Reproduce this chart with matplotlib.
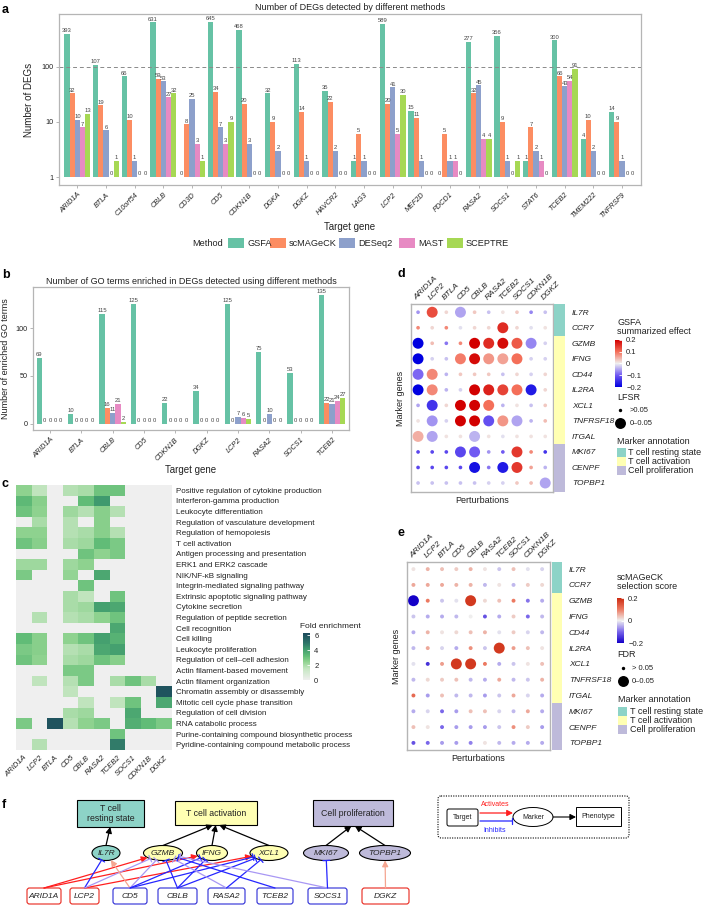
import numpy as np
import matplotlib
matplotlib.use('Agg')
import matplotlib.pyplot as plt
from matplotlib.colors import LinearSegmentedColormap, Normalize
from matplotlib.patches import Rectangle, Ellipse, FancyBboxPatch
from matplotlib.cm import ScalarMappable
from matplotlib.ticker import NullLocator

plt.rcParams['font.family'] = ['Liberation Sans', 'DejaVu Sans']

# ---------------- data ----------------
methods = ['GSFA', 'scMAGeCK', 'DESeq2', 'MAST', 'SCEPTRE']
method_colors = ['#66c2a5', '#fc8d62', '#8da0cb', '#e78ac3', '#a6d854']

genes_a = ['ARID1A', 'BTLA', 'C10orf54', 'CBLB', 'CD3D', 'CD5', 'CDKN1B', 'DGKA', 'DGKZ', 'HAVCR2',
           'LAG3', 'LCP2', 'MEF2D', 'PDCD1', 'RASA2', 'SOCS1', 'STAT6', 'TCEB2', 'TMEM222', 'TNFRSF9']
gsfa_a     = [393, 107, 66, 631, 0, 645, 468, 32, 113, 35, 1, 589, 15, 0, 277, 356, 1, 300, 4, 14]
scmageck_a = [32, 19, 10, 59, 8, 34, 20, 9, 14, 22, 5, 20, 11, 5, 32, 9, 7, 66, 10, 9]
deseq2_a   = [10, 6, 1, 53, 25, 7, 3, 2, 1, 2, 1, 41, 1, 1, 45, 1, 2, 43, 2, 1]
mast_a     = [7, 0, 0, 27, 3, 3, 0, 0, 0, 0, 0, 5, 0, 1, 4, 0, 1, 54, 0, 0]
sceptre_a  = [13, 1, 0, 32, 1, 9, 0, 0, 0, 0, 0, 30, 0, 0, 4, 1, 0, 91, 0, 0]

genes_b = ['ARID1A', 'BTLA', 'CBLB', 'CD5', 'CDKN1B', 'DGKZ', 'LCP2', 'RASA2', 'SOCS1', 'TCEB2']
gsfa_b     = [69, 10, 115, 125, 22, 34, 125, 75, 53, 135]
scmageck_b = [0, 0, 16, 0, 0, 0, 0, 0, 0, 22]
deseq2_b   = [0, 0, 11, 0, 0, 0, 7, 10, 0, 21]
mast_b     = [0, 0, 21, 0, 0, 0, 6, 0, 0, 24]
sceptre_b  = [0, 0, 2, 0, 0, 0, 5, 0, 0, 27]

perturbations = ['ARID1A', 'LCP2', 'BTLA', 'CD5', 'CBLB', 'RASA2', 'TCEB2', 'SOCS1', 'CDKN1B', 'DGKZ']
go_terms = ['Positive regulation of cytokine production', 'Interferon-gamma production',
            'Leukocyte differentiation', 'Regulation of vasculature development',
            'Regulation of hemopoiesis', 'T cell activation', 'Antigen processing and presentation',
            'ERK1 and ERK2 cascade', 'NIK/NF-\u03baB signaling', 'Integrin-mediated signaling pathway',
            'Extrinsic apoptotic signaling pathway', 'Cytokine secretion',
            'Regulation of peptide secretion', 'Cell recognition', 'Cell killing',
            'Leukocyte proliferation', 'Regulation of cell\u2013cell adhesion',
            'Actin filament-based movement', 'Actin filament organization',
            'Chromatin assembly or disassembly', 'Mitotic cell cycle phase transition',
            'Regulation of cell division', 'RNA catabolic process',
            'Purine-containing compound biosynthetic process',
            'Pyridine-containing compound metabolic process']
go_fold = [
    [2.5, 1.6, 0, 1.8, 2.0, 3.0, 3.0, 0, 0, 0],
    [3.3, 2.6, 0, 0, 3.2, 4.2, 0, 0, 0, 0],
    [3.0, 2.5, 0, 2.2, 1.8, 2.6, 1.8, 0, 0, 0],
    [0, 2.0, 0, 1.8, 0, 2.6, 0, 0, 0, 0],
    [2.5, 2.5, 0, 1.8, 2.0, 2.6, 1.8, 0, 0, 0],
    [3.0, 2.6, 0, 2.0, 2.2, 3.2, 2.8, 0, 0, 0],
    [0, 0, 0, 0, 3.0, 2.5, 2.8, 0, 0, 0],
    [2.2, 2.2, 0, 2.2, 2.5, 0, 0, 0, 0, 0],
    [2.8, 0, 0, 2.4, 0, 3.8, 0, 0, 0, 0],
    [0, 0, 0, 0, 3.0, 0, 0, 0, 0, 0],
    [0, 0, 0, 2.0, 1.6, 0, 3.0, 0, 0, 0],
    [0, 0, 0, 2.0, 2.2, 4.0, 3.8, 0, 0, 0],
    [0, 1.8, 0, 1.8, 2.0, 2.5, 3.0, 0, 0, 0],
    [0, 0, 0, 0, 0, 0, 3.8, 0, 0, 0],
    [3.2, 2.6, 0, 2.5, 3.0, 4.0, 3.5, 0, 0, 0],
    [2.8, 2.6, 0, 1.8, 2.0, 3.8, 4.0, 0, 0, 0],
    [3.0, 2.5, 0, 2.0, 2.2, 3.0, 2.6, 0, 0, 0],
    [0, 0, 0, 2.8, 2.8, 0, 0, 0, 0, 0],
    [0, 1.6, 0, 1.8, 2.8, 0, 2.0, 3.0, 2.0, 0],
    [0, 0, 0, 1.6, 0, 0, 0, 0, 0, 6.0],
    [0, 0, 0, 0, 1.6, 0, 1.6, 3.0, 0, 3.8],
    [0, 0, 0, 2.0, 2.2, 0, 0, 3.8, 0, 0],
    [2.8, 0, 6.0, 1.8, 2.5, 2.8, 0, 3.6, 3.2, 2.8],
    [0, 0, 0, 0, 0, 0, 3.0, 0, 0, 0],
    [0, 1.8, 0, 0, 0, 0, 4.8, 0, 0, 0],
]

marker_genes = ['IL7R', 'CCR7', 'GZMB', 'IFNG', 'CD44', 'IL2RA', 'XCL1', 'TNFRSF18', 'ITGAL',
                'MKI67', 'CENPF', 'TOPBP1']
marker_annotation = ['T cell resting state'] * 2 + ['T cell activation'] * 7 + ['Cell proliferation'] * 3
annotation_names = ['T cell resting state', 'T cell activation', 'Cell proliferation']
annotation_colors = ['#8dd3c7', '#ffffb3', '#bebada']

gsfa_effect = [
    [-0.06, 0.13, 0.02, -0.05, 0.03, -0.03, 0.01, 0.03, -0.07, -0.03],
    [0.08, 0.02, 0.08, -0.01, 0.02, 0.02, 0.16, 0.02, -0.01, 0.01],
    [-0.22, 0.04, -0.08, 0.08, 0.20, 0.16, 0.19, 0.12, -0.07, -0.02],
    [-0.22, -0.02, -0.03, 0.09, 0.19, 0.07, 0.06, 0.10, -0.02, -0.02],
    [-0.09, 0.08, -0.04, 0.03, 0.03, 0.03, -0.03, 0.02, -0.02, 0.02],
    [-0.22, 0.08, -0.04, -0.02, 0.20, 0.17, 0.14, 0.10, -0.17, 0.02],
    [-0.05, -0.14, 0.02, 0.20, 0.20, 0.10, -0.04, 0.01, -0.03, 0.03],
    [0.01, -0.06, -0.02, 0.20, 0.20, -0.11, 0.07, -0.05, -0.04, 0.04],
    [0.05, -0.05, 0.01, 0.01, -0.04, 0.01, -0.01, 0.01, 0.01, 0.01],
    [-0.12, -0.12, -0.12, -0.12, -0.10, -0.06, -0.10, 0.15, 0.08, -0.14],
    [-0.12, -0.12, -0.12, -0.12, -0.18, -0.08, -0.17, 0.15, 0.06, -0.04],
    [-0.03, -0.03, -0.03, -0.03, -0.03, -0.02, -0.02, 0.03, 0.04, -0.05],
]
gsfa_lfsr_sig = [
    [0, 1, 0, 1, 0, 0, 0, 0, 0, 0],
    [0, 0, 0, 0, 0, 0, 1, 0, 0, 0],
    [1, 0, 0, 0, 1, 1, 1, 1, 1, 0],
    [1, 0, 0, 1, 1, 1, 1, 1, 0, 0],
    [1, 1, 0, 0, 0, 0, 0, 0, 0, 0],
    [1, 1, 0, 0, 1, 1, 1, 1, 1, 0],
    [0, 1, 0, 1, 1, 1, 0, 0, 0, 0],
    [0, 1, 0, 1, 1, 1, 1, 1, 0, 0],
    [1, 1, 0, 0, 1, 0, 0, 0, 0, 0],
    [0, 0, 0, 1, 1, 0, 0, 1, 0, 0],
    [0, 0, 0, 0, 1, 0, 1, 1, 0, 0],
    [0, 0, 0, 0, 0, 0, 0, 0, 0, 1],
]

scmageck_score = [
    [0.01, 0.05, 0.04, 0.03, 0.05, 0.01, -0.03, 0.04, -0.01, -0.02],
    [0.06, 0.06, 0.06, 0.05, 0.05, -0.04, 0.01, -0.04, 0.03, 0.02],
    [-0.20, 0.10, -0.03, -0.01, 0.18, 0.02, 0.04, 0.10, -0.09, -0.05],
    [-0.03, -0.05, -0.05, -0.04, 0.00, -0.12, -0.05, 0.03, -0.10, -0.04],
    [-0.05, 0.05, 0.01, 0.02, 0.04, 0.05, -0.01, 0.03, -0.02, -0.04],
    [-0.04, 0.06, -0.02, -0.05, 0.08, -0.03, 0.18, 0.07, 0.04, 0.01],
    [-0.01, -0.15, 0.07, 0.18, 0.18, 0.10, -0.05, -0.03, 0.01, 0.04],
    [-0.04, 0.02, 0.03, 0.04, -0.04, -0.05, 0.06, -0.04, -0.03, 0.05],
    [0.12, -0.06, 0.04, -0.04, -0.04, -0.06, -0.03, 0.06, -0.02, -0.05],
    [-0.05, -0.02, -0.10, -0.06, 0.04, 0.04, -0.02, -0.04, 0.06, -0.05],
    [0.04, 0.01, -0.10, -0.06, -0.06, -0.06, -0.03, 0.08, 0.03, -0.06],
    [-0.12, -0.10, -0.06, -0.06, -0.08, 0.01, -0.04, -0.05, -0.05, -0.05],
]
scmageck_fdr_sig = [
    [0] * 10, [0] * 10,
    [1, 0, 0, 0, 1, 0, 0, 0, 0, 0],
    [0] * 10, [0] * 10,
    [0, 0, 0, 0, 0, 0, 1, 0, 0, 0],
    [0, 0, 0, 1, 1, 0, 0, 0, 0, 0],
    [0] * 10, [0] * 10, [0] * 10, [0] * 10, [0] * 10,
]

# network (panel f)
targets_f = ['ARID1A', 'LCP2', 'CD5', 'CBLB', 'RASA2', 'TCEB2', 'SOCS1', 'DGKZ']
target_role_f = ['act', 'act', 'inh', 'inh', 'inh', 'inh', 'inh', 'act']
markers_f = ['IL7R', 'GZMB', 'IFNG', 'XCL1', 'MKI67', 'TOPBP1']
marker_group_f = [0, 1, 1, 1, 2, 2]
phenotypes_f = ['T cell\nresting state', 'T cell activation', 'Cell proliferation']
edges_f = [  # (target, marker, type, strong?)
    ('ARID1A', 'GZMB', 'act', 1), ('ARID1A', 'IFNG', 'act', 1),
    ('LCP2', 'IL7R', 'inh', 1), ('LCP2', 'XCL1', 'act', 1), ('LCP2', 'GZMB', 'inh', 0),
    ('CD5', 'IL7R', 'act', 0), ('CD5', 'GZMB', 'inh', 0), ('CD5', 'IFNG', 'inh', 1), ('CD5', 'XCL1', 'inh', 1),
    ('CBLB', 'GZMB', 'inh', 1), ('CBLB', 'IFNG', 'inh', 1), ('CBLB', 'XCL1', 'inh', 1),
    ('RASA2', 'GZMB', 'inh', 0), ('RASA2', 'XCL1', 'inh', 1),
    ('TCEB2', 'GZMB', 'inh', 1),
    ('SOCS1', 'GZMB', 'inh', 0), ('SOCS1', 'MKI67', 'inh', 1),
    ('DGKZ', 'TOPBP1', 'act', 0),
]

# ---------------- figure ----------------
W, H = 708, 905
fig = plt.figure(figsize=(W / 100, H / 100), dpi=100)


def ax_px(x0, y0, x1, y1, **kw):
    return fig.add_axes([x0 / W, 1 - y1 / H, (x1 - x0) / W, (y1 - y0) / H], **kw)


def ftext(x, y, s, **kw):
    return fig.text(x / W, 1 - y / H, s, **kw)


FRAME = '#b5b5b5'
TXT = '#222222'


def frame(ax, lw=0.9):
    for s in ax.spines.values():
        s.set_color(FRAME)
        s.set_linewidth(lw)
    ax.tick_params(color=FRAME, labelcolor=TXT, length=2.5, width=0.7, labelsize=5.2)
    ax.tick_params(axis='y', pad=1.5)
    ax.tick_params(axis='x', pad=2)


# ---- panel a ----
axa = ax_px(59, 14, 641, 185)
xa = np.arange(len(genes_a))
bw = 0.18
for j, (vals, c) in enumerate(zip([gsfa_a, scmageck_a, deseq2_a, mast_a, sceptre_a], method_colors)):
    v = np.array(vals)
    x = xa + (j - 2) * bw
    axa.bar(x, v, bottom=1, width=bw, color=c, linewidth=0)
    for xi, vi in zip(x, v):
        axa.text(xi, (vi + 1) * 1.03, str(vi), ha='center', va='bottom', fontsize=4.2, color='#444444')
axa.set_yscale('log')
axa.set_ylim(0.72, 900)
axa.set_xlim(-0.64, len(genes_a) - 1 + 0.66)
axa.set_yticks([1, 10, 100])
axa.set_yticklabels(['1', '10', '100'])
axa.yaxis.set_minor_locator(NullLocator())
axa.axhline(100, color='#8a8a8a', ls=(0, (4, 3)), lw=0.7)
axa.set_xticks(xa)
axa.set_xticklabels(genes_a, rotation=45, ha='right', rotation_mode='anchor', fontstyle='italic')
frame(axa)
axa.set_ylabel('Number of DEGs', fontsize=7, labelpad=5, color=TXT)
axa.set_xlabel('Target gene', fontsize=7, labelpad=2, color=TXT)
axa.set_title('Number of DEGs detected by different methods', fontsize=6.5, pad=3, color=TXT)

# ---- panel b ----
axb = ax_px(33, 287, 349, 430)
xb = np.arange(len(genes_b))
bwb = 0.17
for j, (vals, c) in enumerate(zip([gsfa_b, scmageck_b, deseq2_b, mast_b, sceptre_b], method_colors)):
    v = np.array(vals)
    x = xb + (j - 2) * bwb
    axb.bar(x, v, width=bwb, color=c, linewidth=0)
    for xi, vi in zip(x, v):
        axb.text(xi, vi + 1.2, str(vi), ha='center', va='bottom', fontsize=4.2, color='#444444')
axb.set_ylim(-6.5, 143)
axb.set_xlim(-0.54, len(genes_b) - 1 + 0.54)
axb.set_yticks([0, 50, 100])
axb.set_xticks(xb)
axb.set_xticklabels(genes_b, rotation=45, ha='right', rotation_mode='anchor', fontstyle='italic')
frame(axb)
axb.set_ylabel('Number of enriched GO terms', fontsize=6.5, labelpad=4, color=TXT)
axb.set_xlabel('Target gene', fontsize=7, labelpad=2, color=TXT)
axb.set_title('Number of GO terms enriched in DEGs detected using different methods', fontsize=6.5,
              pad=2, color=TXT)

# ---- panel c ----
cmap_c = LinearSegmentedColormap.from_list(
    'fold', [(0, '#efefef'), (1.5 / 6.3, '#c6e7c3'), (2.5 / 6.3, '#8ed28f'), (3.2 / 6.3, '#62bd78'),
             (4.2 / 6.3, '#3f9a6e'), (5.0 / 6.3, '#2d7368'), (1, '#1c4a5c')])
axc = ax_px(16, 485, 172, 750)
imc = axc.imshow(np.array(go_fold), cmap=cmap_c, vmin=0, vmax=6.3, aspect='auto', interpolation='nearest')
axc.set_yticks(range(len(go_terms)))
axc.set_yticklabels(go_terms, fontsize=5.8, color=TXT)
axc.yaxis.tick_right()
axc.set_xticks(range(len(perturbations)))
axc.set_xticklabels(perturbations, rotation=45, ha='right', rotation_mode='anchor', fontstyle='italic',
                    fontsize=5.5, color=TXT)
axc.tick_params(length=0, pad=3)
for s in axc.spines.values():
    s.set_visible(False)
caxc = ax_px(303, 633, 310, 682)
cbc = fig.colorbar(imc, cax=caxc, ticks=[0, 2, 4, 6])
cbc.outline.set_visible(False)
caxc.tick_params(labelsize=5.5, length=2, width=0.6, color='white', direction='in', pad=3, labelcolor=TXT)
caxc.set_ylim(-0.25, 6.3)
ftext(300, 626, 'Fold enrichment', fontsize=6, va='center', color=TXT)

# ---- panels d and e ----
cmap_d = LinearSegmentedColormap.from_list(
    'gsfa', [(0, '#0000e0'), (0.25, '#7058f2'), (0.5, '#efefef'), (0.75, '#f4705a'), (1, '#d20000')])
cmap_e = LinearSegmentedColormap.from_list(
    'scm', [(0, '#1400c8'), (0.25, '#7a66ea'), (0.5, '#efefef'), (0.75, '#ec7a62'), (1, '#cc2a10')])
norm_de = Normalize(-0.2, 0.2)


def dotpanel(box, ann_box, vals, sig, cmap, big, small, label_x, ylim, xlim):
    x0, y0, x1, y1 = box
    ax = ax_px(x0, y0, x1, y1)
    v = np.clip(np.array(vals), -0.2, 0.2)
    s = np.array(sig)
    nr, nc = v.shape
    cols, rows = np.meshgrid(np.arange(nc), np.arange(nr))
    sizes = np.where(s == 1, big, small)
    ax.scatter(cols.ravel(), rows.ravel(), c=v.ravel(), s=sizes.ravel(), cmap=cmap, norm=norm_de,
               linewidths=0)
    ax.set_xlim(*xlim)
    ax.set_ylim(*ylim)
    ax.xaxis.tick_top()
    ax.set_xticks(range(nc))
    ax.set_xticklabels(perturbations, rotation=45, ha='left', rotation_mode='anchor', fontstyle='italic')
    ax.set_yticks([])
    for sp in ax.spines.values():
        sp.set_color(FRAME)
        sp.set_linewidth(1.0)
    ax.tick_params(axis='x', length=0, pad=2, labelsize=6, labelcolor=TXT)
    ax.set_ylabel('Marker genes', fontsize=6.5, labelpad=4, color=TXT)
    ax.set_xlabel('Perturbations', fontsize=6.5, labelpad=3, color=TXT)
    # annotation bar
    a0, a1 = ann_box
    axn = ax_px(a0, y0, a1, y1)
    axn.set_xlim(0, 1)
    axn.set_ylim(*ylim)
    bounds = [ylim[1], 1.5, 8.5, ylim[0]]
    for k in range(3):
        axn.add_patch(Rectangle((0, bounds[k]), 1, bounds[k + 1] - bounds[k], color=annotation_colors[k],
                                linewidth=0))
    axn.set_xticks([])
    axn.yaxis.tick_right()
    axn.set_yticks(range(nr))
    axn.set_yticklabels(marker_genes, fontstyle='italic', fontsize=6, color=TXT)
    axn.tick_params(axis='y', length=0, pad=label_x)
    for sp in axn.spines.values():
        sp.set_visible(False)
    return ax


axd = dotpanel((411, 304, 553, 492), (554, 565), gsfa_effect, gsfa_lfsr_sig, cmap_d, 62, 7, 5,
               (11.58, -0.53), (-0.5, 9.55))
axe = dotpanel((407, 562, 550, 750), (552, 562), scmageck_score, scmageck_fdr_sig, cmap_e, 62, 8, 5,
               (11.45, -0.45), (-0.45, 9.55))

# colorbars for d and e
caxd = ax_px(615, 340, 622, 387)
cbd = fig.colorbar(ScalarMappable(norm_de, cmap_d), cax=caxd, ticks=[0.2, 0.1, 0, -0.1, -0.2])
cbd.ax.set_yticklabels(['0.2', '0.1', '0', '\u22120.1', '\u22120.2'])
cbd.outline.set_visible(False)
caxd.tick_params(labelsize=5.5, length=2, width=0.6, color='white', direction='in', pad=3, labelcolor=TXT)

caxe = ax_px(617, 598, 624, 643)
cbe = fig.colorbar(ScalarMappable(norm_de, cmap_e), cax=caxe, ticks=[0.2, 0, -0.2])
cbe.ax.set_yticklabels(['0.2', '0', '\u22120.2'])
cbe.outline.set_visible(False)
caxe.tick_params(labelsize=5.5, length=2, width=0.6, color='white', direction='in', pad=3, labelcolor=TXT)

# ---- overlay (legends, labels, network) ----
ov = fig.add_axes([0, 0, 1, 1])
ov.set_xlim(0, W)
ov.set_ylim(H, 0)
ov.axis('off')

# legend of a
ov.text(192, 243, 'Method', fontsize=6.6, va='center', ha='left', color=TXT)
leg_x = [228, 270, 339, 399, 447]
for lx, m, c in zip(leg_x, methods, method_colors):
    ov.add_patch(Rectangle((lx, 238), 16, 10, color=c, linewidth=0))
    ov.text(lx + 19, 243, m, fontsize=6.6, va='center', ha='left', color=TXT)

# legend of d
ov.text(617, 327, 'GSFA\nsummarized effect', fontsize=6.5, va='center', ha='left', color=TXT,
        linespacing=1.0)
ov.text(617, 397, 'LFSR', fontsize=6.5, va='center', color=TXT)
ov.scatter([620], [410], s=6, c='black', linewidths=0)
ov.text(630, 410, '>0.05', fontsize=5.5, va='center', color=TXT)
ov.scatter([620], [423], s=62, c='black', linewidths=0)
ov.text(630, 423, '0\u20130.05', fontsize=5.5, va='center', color=TXT)
ov.text(617, 441, 'Marker annotation', fontsize=6.5, va='center', color=TXT)
for k in range(3):
    ov.add_patch(Rectangle((617, 448 + 9 * k), 9, 9, color=annotation_colors[k], linewidth=0))
    ov.text(628, 452.5 + 9 * k, annotation_names[k], fontsize=6.5, va='center', color=TXT)

# legend of e
ov.text(617, 582, 'scMAGeCK\nselection score', fontsize=6.5, va='center', ha='left', color=TXT,
        linespacing=1.0)
ov.text(617, 654, 'FDR', fontsize=6.5, va='center', color=TXT)
ov.scatter([623], [668], s=6, c='black', linewidths=0)
ov.text(632, 668, '> 0.05', fontsize=5.5, va='center', color=TXT)
ov.scatter([623], [681], s=62, c='black', linewidths=0)
ov.text(632, 681, '0\u20130.05', fontsize=5.5, va='center', color=TXT)
ov.text(618, 699, 'Marker annotation', fontsize=6.5, va='center', color=TXT)
for k in range(3):
    ov.add_patch(Rectangle((618, 707 + 9 * k), 9, 9, color=annotation_colors[k], linewidth=0))
    ov.text(630, 711.5 + 9 * k, annotation_names[k], fontsize=6.5, va='center', color=TXT)

# panel letters
for (lx, ly, lt) in [(2, 10, 'a'), (2, 275, 'b'), (2, 484, 'c'), (397, 274, 'd'), (397, 533, 'e'),
                     (2, 805, 'f')]:
    ov.text(lx, ly, lt, fontsize=9, fontweight='bold', va='center', ha='left', color='black')

# ---- panel f network ----
RED, LRED = '#ff1f1f', '#f5a590'
BLUE, LBLUE = '#2626ff', '#a897f4'
target_box = {'ARID1A': (27, 61), 'LCP2': (70, 99), 'CD5': (113, 147), 'CBLB': (158, 197),
              'RASA2': (208, 245), 'TCEB2': (257, 293), 'SOCS1': (308, 347), 'DGKZ': (362, 409)}
ty0, ty1 = 888, 904
marker_pos = {'IL7R': (106, 28), 'GZMB': (163, 39), 'IFNG': (212, 31), 'XCL1': (269, 38),
              'MKI67': (326, 45), 'TOPBP1': (385, 51)}
my, mh = 853, 15
pheno_box = [(77, 800, 144, 827), (175, 801, 257, 825), (313, 800, 393, 826)]


def ellipse_point(cx, cy, a, b, px, py):
    dx, dy = px - cx, py - cy
    t = 1.0 / np.sqrt((dx / a) ** 2 + (dy / b) ** 2)
    return cx + t * dx, cy + t * dy


# edges target -> marker
for (t, m, kind, strong) in edges_f:
    tx0, tx1 = target_box[t]
    sx, sy = (tx0 + tx1) / 2, ty0
    cx, w = marker_pos[m]
    ex, ey = ellipse_point(cx, my, w / 2, mh / 2, sx, sy)
    if kind == 'act':
        col = RED if strong else LRED
        style = '-|>,head_length=0.35,head_width=0.18'
    else:
        col = BLUE if strong else LBLUE
        style = '-[,widthB=0.25,lengthB=0'
    ov.annotate('', xy=(ex, ey), xytext=(sx, sy),
                arrowprops=dict(arrowstyle=style, color=col, lw=0.9, shrinkA=0, shrinkB=0))

# marker -> phenotype arrows
for m, g in zip(markers_f, marker_group_f):
    cx, w = marker_pos[m]
    bx0, by0, bx1, by1 = pheno_box[g]
    bxc = (bx0 + bx1) / 2
    ov.annotate('', xy=(bxc + (cx - bxc) * 0.06, by1), xytext=(cx, my - mh / 2),
                arrowprops=dict(arrowstyle='-|>,head_length=0.35,head_width=0.18', color='black', lw=0.9,
                                shrinkA=0, shrinkB=0))

# phenotype boxes
for (bx0, by0, bx1, by1), name, c in zip(pheno_box, phenotypes_f, annotation_colors):
    ov.add_patch(Rectangle((bx0, by0), bx1 - bx0, by1 - by0, facecolor=c, edgecolor='black', lw=0.8))
    ov.text((bx0 + bx1) / 2, (by0 + by1) / 2, name, ha='center', va='center', fontsize=6.3,
            color=TXT, linespacing=1.05)

# marker ellipses
for m, g in zip(markers_f, marker_group_f):
    cx, w = marker_pos[m]
    ov.add_patch(Ellipse((cx, my), w, mh, facecolor=annotation_colors[g], edgecolor='black', lw=0.8))
    ov.text(cx, my, m, ha='center', va='center', fontsize=6, fontstyle='italic', color=TXT)

# target boxes
for t, role in zip(targets_f, target_role_f):
    tx0, tx1 = target_box[t]
    ec = '#e8261c' if role == 'act' else '#2b2bd6'
    ov.add_patch(FancyBboxPatch((tx0, ty0), tx1 - tx0, ty1 - ty0, boxstyle='round,pad=0,rounding_size=2.5',
                                facecolor='white', edgecolor=ec, lw=0.8))
    ov.text((tx0 + tx1) / 2, (ty0 + ty1) / 2, t, ha='center', va='center', fontsize=6, fontstyle='italic',
            color=TXT)

# network legend
ov.add_patch(FancyBboxPatch((438, 796), 191, 42, boxstyle='round,pad=0,rounding_size=3', facecolor='none',
                            edgecolor='black', lw=0.8, linestyle=(0, (1, 1.2))))
ov.add_patch(FancyBboxPatch((447, 809), 31, 17, boxstyle='round,pad=0,rounding_size=2', facecolor='white',
                            edgecolor='black', lw=0.7))
ov.text(462.5, 817.5, 'Target', ha='center', va='center', fontsize=5, color=TXT)
ov.add_patch(Ellipse((533, 817), 40, 19, facecolor='white', edgecolor='black', lw=0.7))
ov.text(533, 817, 'Marker', ha='center', va='center', fontsize=5, color=TXT)
ov.add_patch(Rectangle((576, 807), 45, 19, facecolor='white', edgecolor='black', lw=0.7))
ov.text(598.5, 816.5, 'Phenotype', ha='center', va='center', fontsize=5, color=TXT)
ov.annotate('', xy=(513, 813), xytext=(480, 813),
            arrowprops=dict(arrowstyle='-|>,head_length=0.35,head_width=0.18', color=RED, lw=0.9,
                            shrinkA=0, shrinkB=0))
ov.annotate('', xy=(512, 821), xytext=(480, 821),
            arrowprops=dict(arrowstyle='-[,widthB=0.25,lengthB=0', color=BLUE, lw=0.9, shrinkA=0, shrinkB=0))
ov.annotate('', xy=(576, 817), xytext=(553, 817),
            arrowprops=dict(arrowstyle='-|>,head_length=0.35,head_width=0.18', color='black', lw=0.8,
                            shrinkA=0, shrinkB=0))
ov.text(495, 804, 'Activates', ha='center', va='center', fontsize=5, color=RED)
ov.text(495, 830, 'Inhibits', ha='center', va='center', fontsize=5, color=BLUE)

fig.savefig('out.png', dpi=100)
